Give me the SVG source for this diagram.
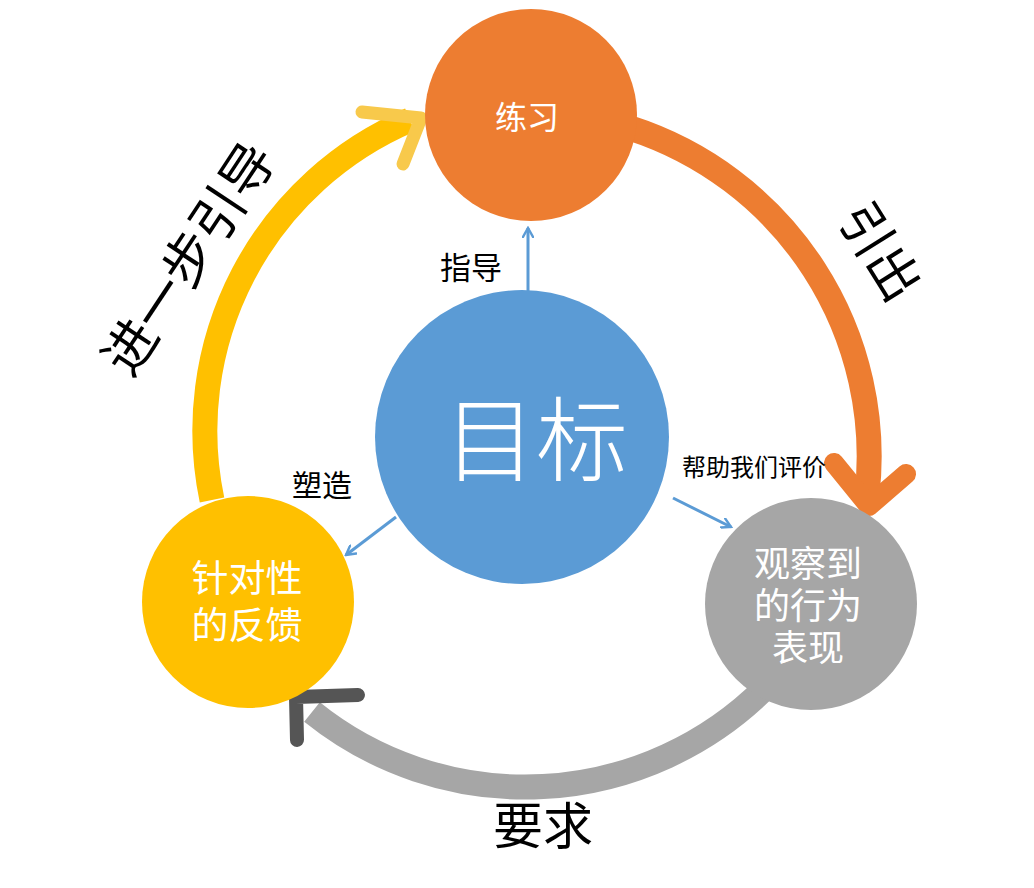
<svg xmlns="http://www.w3.org/2000/svg" width="1034" height="888" viewBox="0 0 1034 888">
<defs>
<marker id="ah" viewBox="0 0 12 12" refX="10" refY="6" markerWidth="12" markerHeight="12" markerUnits="userSpaceOnUse" orient="auto">
<path d="M1,1 L10,6 L1,11" fill="none" stroke="#5B9BD5" stroke-width="2.4" stroke-linecap="round"/>
</marker>
</defs>
<style>
.lbl{font-family:"Noto Sans CJK SC","Noto Sans",sans-serif;fill:#000;text-anchor:middle}
.in{font-family:"Noto Sans CJK SC","Noto Sans",sans-serif;fill:#fff;text-anchor:middle}
.thin{stroke:#5B9BD5;stroke-width:3;fill:none}
</style>
<rect width="1034" height="888" fill="#fff"/>
<g id="connectors">
<path id="arc-yellow" d="M212 500 A338 338 0 0 1 410 120" fill="none" stroke="#FFC000" stroke-width="25"/>
<path d="M362 112 L421 118 L403 164" fill="none" stroke="#F8C94B" stroke-width="13" stroke-linecap="round" stroke-linejoin="round"/>
<path id="arc-orange" d="M630 128 A345 345 0 0 1 867 495" fill="none" stroke="#ED7D31" stroke-width="25"/>
<path d="M834 463 L869 506 L906 474" fill="none" stroke="#ED7D31" stroke-width="20" stroke-linecap="round" stroke-linejoin="round"/>
<path id="arc-gray" d="M765 688 A340 340 0 0 1 312 712" fill="none" stroke="#A6A6A6" stroke-width="25"/>
<path d="M297 740 L296 697 L358 695" fill="none" stroke="#555" stroke-width="14" stroke-linecap="round" stroke-linejoin="round"/>
<line class="thin" x1="528" y1="292" x2="528" y2="228" marker-end="url(#ah)"/>
<line class="thin" x1="396" y1="517" x2="346" y2="555" marker-end="url(#ah)"/>
<line class="thin" x1="673" y1="498" x2="731" y2="527" marker-end="url(#ah)"/>
</g>
<g id="node-practice">
<circle cx="531" cy="115" r="106" fill="#ED7D31"/>
<text class="in" x="527" y="129" font-size="32">练习</text>
</g>
<g id="node-goal">
<circle cx="522" cy="437" r="147" fill="#5B9BD5"/>
<text class="in" x="536" y="474" font-size="92" font-weight="300">目标</text>
</g>
<g id="node-feedback">
<circle cx="248" cy="602" r="106" fill="#FFC000"/>
<text class="in" x="247" y="592" font-size="37">针对性</text>
<text class="in" x="247" y="639" font-size="37">的反馈</text>
</g>
<g id="node-behavior">
<circle cx="811" cy="604" r="106" fill="#A6A6A6"/>
<text class="in" x="808" y="577" font-size="36">观察到</text>
<text class="in" x="808" y="619" font-size="36">的行为</text>
<text class="in" x="808" y="661" font-size="36">表现</text>
</g>
<g id="labels">
<text class="lbl" x="471" y="279" font-size="31">指导</text>
<text class="lbl" x="322" y="496" font-size="30">塑造</text>
<text class="lbl" x="754" y="476" font-size="24">帮助我们评价</text>
<text class="lbl" x="543" y="844" font-size="50">要求</text>
<text class="lbl" font-size="53" transform="translate(188 258) rotate(-56.5)" y="20">进一步引导</text>
<text class="lbl" font-size="52" transform="translate(881 251) rotate(58)" y="20">引出</text>
</g>
</svg>
